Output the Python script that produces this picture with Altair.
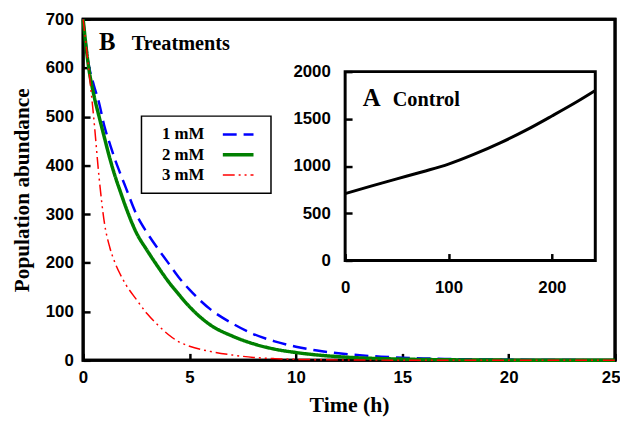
import altair as alt
import pandas as pd

# ---------------- data ----------------
series = ["1 mM", "2 mM", "3 mM"]
times = [0, 0.25, 0.5, 0.75, 1, 1.25, 1.5, 1.75, 2, 2.5, 3, 3.5, 4, 4.5, 5,
         6, 7, 8, 9, 10, 11, 12, 13, 14, 15, 16, 17, 18, 19, 20, 21, 22, 23, 24, 25]
mm1 = [700, 610, 565, 528, 480, 445, 412, 383, 355, 300, 262, 230, 200, 170, 145,
       104, 76, 54, 39, 28, 20, 14.5, 10.5, 7.5, 5.5, 4, 3, 2.2, 1.6, 1.2, 0.9, 0.7, 0.5, 0.4, 0.3]
mm2 = [700, 604, 545, 500, 457, 415, 378, 346, 315, 262, 226, 193, 162, 135, 110,
       72, 50, 34, 23, 16, 11, 7.5, 5, 3.5, 2.5, 1.7, 1.2, 0.8, 0.6, 0.4, 0.3, 0.2, 0.15, 0.1, 0.1]
mm3 = [700, 603, 497, 375, 282, 232, 200, 176, 156, 125, 96, 73, 53, 38, 29,
       18, 11, 6, 3.5, 2, 1.3, 0.9, 0.6, 0.4, 0.3, 0.2, 0.2, 0.1, 0.1, 0.1, 0.1, 0.1, 0.1, 0.1, 0.1]

ctrl_time = [0, 25, 50, 75, 100, 125, 150, 175, 200, 225, 242]
ctrl_pop = [708, 787, 864, 940, 1020, 1125, 1245, 1380, 1530, 1686, 1800]

main_x_ticks = [0, 5, 10, 15, 20, 25]
main_y_ticks = [0, 100, 200, 300, 400, 500, 600, 700]
inset_x_ticks = [0, 100, 200]
inset_y_ticks = [0, 500, 1000, 1500, 2000]

panel_letters = ["B", "A"]
panel_names = ["Treatments", "Control"]
x_title = "Time (h)"
y_title = "Population abundance"

# ---------------- tables ----------------
rows = []
for name, vals in zip(series, [mm1, mm2, mm3]):
    for t, v in zip(times, vals):
        rows.append({"series": name, "t": t, "v": v})
df = pd.DataFrame(rows)
ctrl = pd.DataFrame({"t": ctrl_time, "v": ctrl_pop})
one = ctrl.head(1)

# ---------------- styles ----------------
W, H = 538, 345
colors = ["#0000ff", "#008000", "#ff0000"]
dashes = [[14, 7], [1, 0], [12, 4, 2, 4, 2, 4]]
widths = [2.5, 3.5, 1.5]
SANS = "Liberation Sans"
SERIF = "Liberation Serif"

XM = alt.Scale(domain=[0, 25], nice=False, zero=False)
YM = alt.Scale(domain=[0, 700], nice=False)
XI = alt.Scale(domain=[0, 242], range=[265, 518], nice=False)
YI = alt.Scale(domain=[0, 2000], range=[244, 53], nice=False)

lab = dict(labelFont=SANS, labelFontSize=17, labelFontWeight="bold",
           labelColor="black", grid=False, format="d", labelOverlap=False)
tick_only = dict(labels=True, labelOpacity=0, domain=True, domainOpacity=0,
                 grid=False, ticks=True, tickSize=7, tickWidth=2.5,
                 tickColor="black", tickOpacity=1, title="", format="d")

# legend sample: a horizontal stroke 3x the nominal symbol box (31 px long)
legend = alt.Legend(
    title=None, orient="none", legendX=59, legendY=98,
    symbolType="M-3,0H3", symbolSize=107, symbolOffset=79.3,
    labelOffset={"expr": "-85.6"},
    labelFont=SERIF, labelFontSize=17, labelFontWeight="bold", labelColor="black",
    strokeColor="black", padding=10, rowPadding=2.5, fillColor="white",
)

main_frame = alt.Chart(one).mark_rect(
    fillOpacity=0, stroke="black", strokeWidth=3
).encode(
    x=alt.XDatum(0, scale=XM, axis=None), x2=alt.datum(25),
    y=alt.YDatum(0, scale=YM, axis=None), y2=alt.datum(700),
)

curves = alt.Chart(df).mark_line(interpolate="monotone").encode(
    x=alt.X("t:Q", scale=XM, axis=alt.Axis(
        orient="bottom", values=main_x_ticks, ticks=False, domain=False,
        labelPadding=9, labelFlush=True, labelFlushOffset=5,
        title=x_title, titleFont=SERIF, titleFontSize=22, titleFontWeight="bold",
        titleColor="black", titlePadding=10, **lab)),
    y=alt.Y("v:Q", scale=YM, axis=alt.Axis(
        orient="left", values=main_y_ticks, ticks=False, domain=False,
        labelPadding=10, labelFlush=False,
        title=y_title, titleFont=SERIF, titleFontSize=21.5, titleFontWeight="bold",
        titleColor="black", titlePadding=12, **lab)),
    color=alt.Color("series:N", scale=alt.Scale(domain=series, range=colors), legend=legend),
    strokeDash=alt.StrokeDash("series:N", scale=alt.Scale(domain=series, range=dashes), legend=legend),
    strokeWidth=alt.StrokeWidth("series:N", scale=alt.Scale(type="ordinal", domain=series, range=widths),
                                legend=legend),
)

main_ticks = alt.Chart(df).mark_point(opacity=0).encode(
    x=alt.X("t:Q", scale=XM, axis=alt.Axis(orient="top", offset=-H, values=main_x_ticks, **tick_only)),
    y=alt.Y("v:Q", scale=YM, axis=alt.Axis(orient="right", offset=-W, values=main_y_ticks, **tick_only)),
)

letter_b = alt.Chart(one).mark_text(
    align="left", baseline="alphabetic", font=SERIF, fontSize=25, fontWeight="bold", color="black"
).encode(x=alt.XDatum(0.74, scale=XM, axis=None), y=alt.YDatum(637, scale=YM, axis=None),
         text=alt.value(panel_letters[0]))
name_b = alt.Chart(one).mark_text(
    align="left", baseline="alphabetic", font=SERIF, fontSize=20.5, fontWeight="bold", color="black"
).encode(x=alt.XDatum(2.28, scale=XM, axis=None), y=alt.YDatum(637, scale=YM, axis=None),
         text=alt.value(panel_names[0]))

inset_line = alt.Chart(ctrl).mark_line(color="black", strokeWidth=3, interpolate="monotone").encode(
    x=alt.X("t:Q", scale=XI, axis=alt.Axis(
        orient="bottom", offset=-101, values=inset_x_ticks, ticks=False, domain=False,
        labelPadding=19, labelFlush=False, title=None, **lab)),
    y=alt.Y("v:Q", scale=YI, axis=alt.Axis(
        orient="left", offset=-265, values=inset_y_ticks, ticks=False, domain=False,
        labelPadding=15, labelFlush=False, title=None, **lab)),
)

inset_ticks = alt.Chart(ctrl).mark_point(opacity=0).encode(
    x=alt.X("t:Q", scale=XI, axis=alt.Axis(orient="top", offset=-244, values=inset_x_ticks, **tick_only)),
    y=alt.Y("v:Q", scale=YI, axis=alt.Axis(orient="right", offset=-(W - 265), values=inset_y_ticks, **tick_only)),
)

inset_frame = alt.Chart(one).mark_rect(
    fillOpacity=0, stroke="black", strokeWidth=3
).encode(
    x=alt.XDatum(0, scale=XI, axis=None), x2=alt.datum(242),
    y=alt.YDatum(0, scale=YI, axis=None), y2=alt.datum(2000),
)

letter_a = alt.Chart(one).mark_text(
    align="left", baseline="alphabetic", font=SERIF, fontSize=25, fontWeight="bold", color="black"
).encode(x=alt.XDatum(17, scale=XI, axis=None), y=alt.YDatum(1633, scale=YI, axis=None),
         text=alt.value(panel_letters[1]))
name_a = alt.Chart(one).mark_text(
    align="left", baseline="alphabetic", font=SERIF, fontSize=20.5, fontWeight="bold", color="black"
).encode(x=alt.XDatum(46, scale=XI, axis=None), y=alt.YDatum(1633, scale=YI, axis=None),
         text=alt.value(panel_names[1]))

chart = alt.layer(
    main_frame, main_ticks, curves, letter_b, name_b,
    inset_frame, inset_line, inset_ticks, letter_a, name_a,
).resolve_scale(x="independent", y="independent").properties(
    width=W, height=H,
    autosize=alt.AutoSizeParams(type="none"),
    padding={"left": 76, "top": 9, "right": 5, "bottom": 58},
    background="white",
).configure_view(stroke="black", strokeWidth=3).configure_legend(strokeWidth=1.5)

chart.save("out.html", embed_options={"renderer": "svg", "actions": False})
